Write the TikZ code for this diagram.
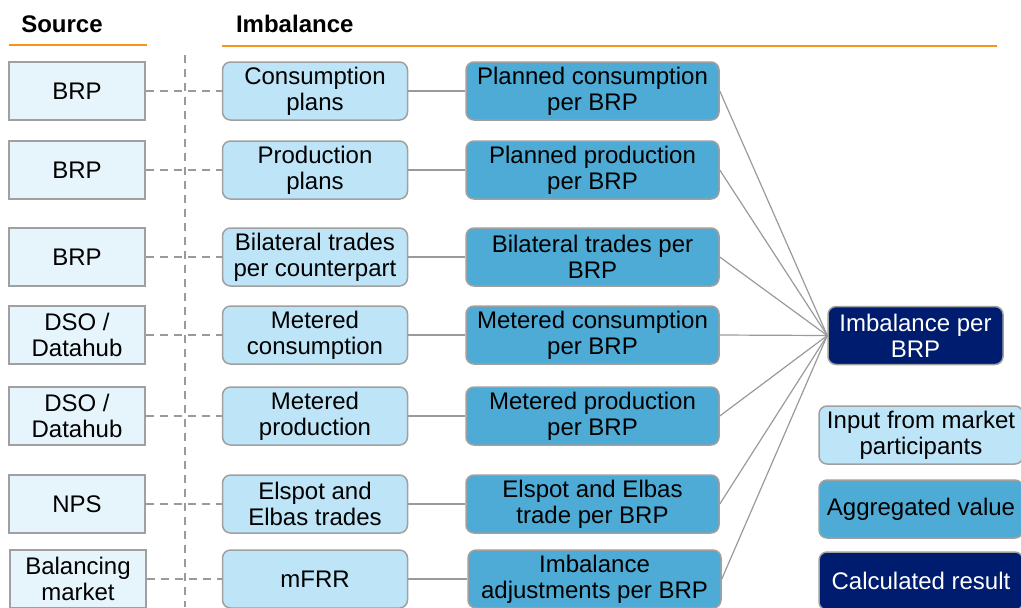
\documentclass[tikz,border=0pt]{standalone}
\usepackage{fontspec}
\setmainfont{Liberation Sans}
\usetikzlibrary{positioning}
\definecolor{srcC}{HTML}{E6F4FC}
\definecolor{midC}{HTML}{BDE4F7}
\definecolor{aggC}{HTML}{4EABD5}
\definecolor{resC}{HTML}{001C6E}
\definecolor{edgeC}{HTML}{A0A0A0}
\definecolor{lineC}{HTML}{9A9A9A}
\definecolor{orangeC}{HTML}{F7941D}
\tikzset{
  base/.style={rectangle, draw=edgeC, line width=0.75pt, minimum height=29pt, align=center, font=\fontsize{12}{13}\selectfont, inner sep=1pt},
  ndSrc/.style={base, fill=srcC, minimum width=68pt},
  ndMid/.style={base, rounded corners=4pt, fill=midC, minimum width=92.5pt},
  ndAgg/.style={base, rounded corners=4pt, fill=aggC, minimum width=126.5pt},
  ndRes/.style={base, rounded corners=4pt, fill=resC, text=white},
  dsh/.style={draw=lineC, line width=0.75pt, dash pattern=on 4pt off 3pt},
  lnk/.style={draw=lineC, line width=0.6pt},
  hdr/.style={font=\fontsize{12}{14}\selectfont\bfseries},
  bar/.style={draw=orangeC, line width=1pt}
}
\begin{document}
\begin{tikzpicture}[x=0.5pt, y=-0.5pt]
  \clip (0,0) rectangle (1021,607);

  % ── Headers ──
  \node[hdr] (hsrc) at (62,24) {Source};
  \node[hdr, anchor=west] (himb) at (229,24) {Imbalance};
  \draw[bar] (9,45) -- (147,45);
  \draw[bar] (222,46) -- (997,46);
  \draw[dsh] (185,55) -- (185,607);

  % ── Sources ──
  \node[ndSrc] (src1) at (77,91) {BRP};
  \node[ndSrc] (src2) at (77,170) {BRP};
  \node[ndSrc] (src3) at (77,257) {BRP};
  \node[ndSrc] (src4) at (77,335) {DSO /\\Datahub};
  \node[ndSrc] (src5) at (77,416) {DSO /\\Datahub};
  \node[ndSrc] (src6) at (77,504) {NPS};
  \node[ndSrc] (src7) at (78,579) {Balancing\\market};

  % ── Inputs ──
  \node[ndMid, right=38pt of src1] (mid1) {Consumption\\plans};
  \node[ndMid, right=38pt of src2] (mid2) {Production\\plans};
  \node[ndMid, right=38pt of src3] (mid3) {Bilateral trades\\per counterpart};
  \node[ndMid, right=38pt of src4] (mid4) {Metered\\consumption};
  \node[ndMid, right=38pt of src5] (mid5) {Metered\\production};
  \node[ndMid, right=38pt of src6] (mid6) {Elspot and\\Elbas trades};
  \node[ndMid, right=37.5pt of src7] (mid7) {mFRR};

  % ── Aggregates ──
  \node[ndAgg, right=28.5pt of mid1] (agg1) {Planned consumption\\per BRP};
  \node[ndAgg, right=28.5pt of mid2] (agg2) {Planned production\\per BRP};
  \node[ndAgg, right=28.5pt of mid3] (agg3) {Bilateral trades per\\BRP};
  \node[ndAgg, right=28.5pt of mid4] (agg4) {Metered consumption\\per BRP};
  \node[ndAgg, right=28.5pt of mid5] (agg5) {Metered production\\per BRP};
  \node[ndAgg, right=28.5pt of mid6] (agg6) {Elspot and Elbas\\trade per BRP};
  \node[ndAgg, right=29.5pt of mid7] (agg7) {Imbalance\\adjustments per BRP};

  % ── Result ──
  \node[ndRes, minimum width=87.5pt] (imb) at (915.5,335.5) {Imbalance per\\BRP};

  \foreach \n in {1,...,7} {
    \draw[dsh] (src\n) -- (mid\n);
    \draw[lnk] (mid\n) -- (agg\n);
    \draw[lnk] (agg\n.east) -- (imb.west);
  }

  % ── Legend ──
  \node[ndMid, minimum width=102pt] (lgIn) at (921,435) {Input from market\\participants};
  \node[ndAgg, minimum width=102pt] (lgAgg) at (921,509) {Aggregated value};
  \node[ndRes, minimum width=102pt] (lgRes) at (921,581) {Calculated result};
\end{tikzpicture}
\end{document}
